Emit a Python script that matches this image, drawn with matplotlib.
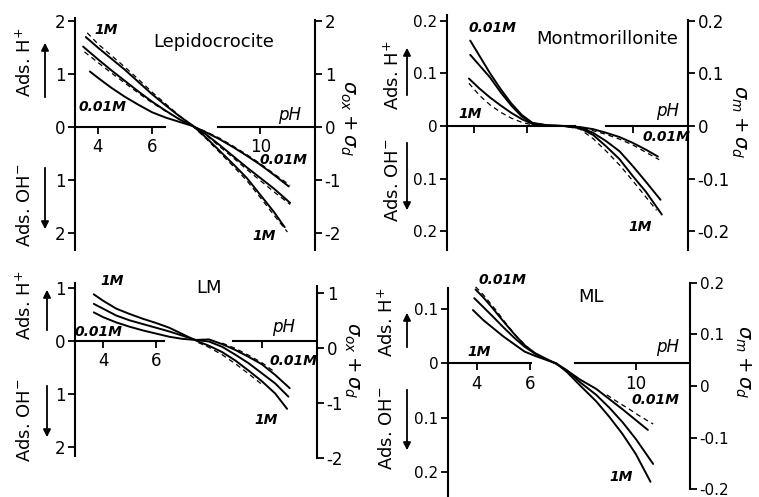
import numpy as np
import matplotlib
matplotlib.use("Agg")
import matplotlib.pyplot as plt
from matplotlib.patches import FancyArrowPatch

# ---------------- DATA ----------------
# Lepidocrocite
LEP_PH_1M = [3.55, 4.0, 4.5, 5.0, 5.5, 6.0, 6.5, 7.0, 7.5, 8.0, 8.5, 9.0, 9.5, 10.0, 10.5, 10.9]
LEP_1M = [1.70, 1.50, 1.29, 1.08, 0.85, 0.62, 0.41, 0.21, 0.03, -0.20, -0.45, -0.70, -0.96, -1.28, -1.60, -1.89]
LEP_PH_01M = [3.45, 4.0, 4.5, 5.0, 5.5, 6.0, 6.5, 7.0, 7.5, 8.0, 8.5, 9.0, 9.5, 10.0, 10.5, 11.1]
LEP_01M = [1.52, 1.28, 1.07, 0.87, 0.67, 0.48, 0.31, 0.15, 0.02, -0.14, -0.34, -0.55, -0.76, -0.96, -1.16, -1.43]
LEP_PH_001M = [3.7, 4.0, 4.5, 5.0, 5.5, 6.0, 6.5, 7.0, 7.5, 8.0, 8.5, 9.0, 9.5, 10.0, 10.5, 11.05]
LEP_001M = [1.05, 0.93, 0.74, 0.57, 0.42, 0.28, 0.18, 0.10, 0.02, -0.10, -0.23, -0.38, -0.54, -0.71, -0.90, -1.12]
LEP_PH_D1M = [3.6, 4.0, 4.5, 5.0, 5.5, 6.0, 6.5, 7.0, 7.5, 8.0, 8.5, 9.0, 9.5, 10.0, 10.5, 11.0]
LEP_D1M = [1.78, 1.57, 1.35, 1.13, 0.90, 0.66, 0.44, 0.22, 0.02, -0.22, -0.48, -0.74, -1.01, -1.33, -1.66, -1.98]
LEP_PH_D01M = [3.5, 4.0, 4.5, 5.0, 5.5, 6.0, 6.5, 7.0, 7.5, 8.0, 8.5, 9.0, 9.5, 10.0, 10.5, 11.1]
LEP_D01M = [1.42, 1.22, 1.02, 0.83, 0.64, 0.46, 0.30, 0.15, 0.02, -0.15, -0.37, -0.58, -0.80, -1.01, -1.22, -1.46]
LEP_PH_D001M = [7.5, 8.0, 8.5, 9.0, 9.5, 10.0, 10.5, 11.1]
LEP_D001M = [0.02, -0.09, -0.21, -0.36, -0.52, -0.69, -0.88, -1.10]

# Montmorillonite
MON_PH_1M = [3.8, 4.2, 4.6, 5.0, 5.4, 5.8, 6.2, 6.8, 7.4, 8.0, 8.5, 9.0, 9.5, 10.0, 10.5, 11.1]
MON_1M = [0.090, 0.071, 0.054, 0.039, 0.025, 0.013, 0.004, 0.001, 0.0, -0.004, -0.017, -0.039, -0.063, -0.095, -0.125, -0.168]
MON_PH_01M = [3.85, 4.2, 4.6, 5.0, 5.4, 5.8, 6.2, 6.8, 7.4, 8.0, 8.5, 9.0, 9.5, 10.0, 10.5, 11.05]
MON_01M = [0.135, 0.115, 0.092, 0.064, 0.039, 0.018, 0.005, 0.001, 0.0, -0.003, -0.013, -0.029, -0.048, -0.076, -0.106, -0.140]
MON_PH_001M = [3.85, 4.2, 4.6, 5.0, 5.4, 5.8, 6.2, 6.8, 7.4, 8.0, 8.5, 9.0, 9.5, 10.0, 10.5, 10.95]
MON_001M = [0.162, 0.133, 0.100, 0.070, 0.043, 0.021, 0.006, 0.001, 0.0, -0.002, -0.006, -0.013, -0.021, -0.032, -0.045, -0.058]
MON_PH_D1M = [3.8, 4.2, 4.6, 5.0, 5.4, 5.8, 6.2, 6.8, 7.4, 8.0, 8.5, 9.0, 9.5, 10.0, 10.5, 10.9]
MON_D1M = [0.081, 0.058, 0.040, 0.026, 0.015, 0.007, 0.002, 0.0, 0.0, -0.006, -0.024, -0.048, -0.074, -0.104, -0.135, -0.160]
MON_PH_D001M = [7.8, 8.5, 9.0, 9.5, 10.0, 10.5, 11.0]
MON_D001M = [0.0, -0.009, -0.016, -0.025, -0.036, -0.050, -0.064]

# LM
LM_PH_1M = [3.65, 4.0, 4.5, 5.0, 5.5, 6.0, 6.5, 7.0, 7.5, 8.0, 8.5, 9.0, 9.5, 10.0, 10.5, 10.95]
LM_1M = [0.88, 0.76, 0.61, 0.51, 0.42, 0.34, 0.25, 0.13, 0.01, -0.09, -0.21, -0.37, -0.56, -0.76, -0.99, -1.28]
LM_PH_01M = [3.65, 4.0, 4.5, 5.0, 5.5, 6.0, 6.5, 7.0, 7.5, 8.0, 8.5, 9.0, 9.5, 10.0, 10.5, 11.0]
LM_01M = [0.70, 0.61, 0.48, 0.39, 0.32, 0.25, 0.18, 0.10, 0.02, -0.01, -0.11, -0.26, -0.42, -0.61, -0.80, -1.05]
LM_PH_001M = [3.65, 4.0, 4.5, 5.0, 5.5, 6.0, 6.5, 7.0, 7.5, 8.0, 8.5, 9.0, 9.5, 10.0, 10.5, 11.05]
LM_001M = [0.54, 0.45, 0.35, 0.27, 0.20, 0.14, 0.08, 0.04, 0.02, 0.03, -0.06, -0.17, -0.30, -0.44, -0.64, -0.89]
LM_PH_D1M = [7.6, 8.0, 8.5, 9.0, 9.5, 10.0]
LM_D1M = [-0.03, -0.12, -0.26, -0.43, -0.62, -0.82]
LM_PH_D001M = [8.5, 9.0, 9.5, 10.0, 10.5]
LM_D001M = [-0.04, -0.14, -0.27, -0.41, -0.59]

# ML
ML_PH_1M = [3.85, 4.25, 4.6, 5.0, 5.4, 5.8, 6.2, 6.6, 7.0, 7.4, 7.9, 8.5, 9.0, 9.5, 10.0, 10.55]
ML_1M = [0.099, 0.080, 0.066, 0.050, 0.036, 0.022, 0.014, 0.007, 0.0, -0.016, -0.041, -0.070, -0.099, -0.131, -0.168, -0.219]
ML_PH_01M = [3.9, 4.25, 4.6, 5.0, 5.4, 5.8, 6.2, 6.6, 7.0, 7.4, 7.9, 8.5, 9.0, 9.5, 10.0, 10.65]
ML_01M = [0.121, 0.104, 0.087, 0.067, 0.048, 0.031, 0.018, 0.008, 0.0, -0.013, -0.035, -0.058, -0.082, -0.109, -0.140, -0.186]
ML_PH_001M = [3.95, 4.25, 4.6, 5.0, 5.4, 5.8, 6.2, 6.6, 7.0, 7.4, 7.9, 8.5, 9.0, 9.5, 10.0, 10.45]
ML_001M = [0.137, 0.122, 0.102, 0.078, 0.055, 0.034, 0.019, 0.009, -0.001, -0.013, -0.030, -0.047, -0.066, -0.085, -0.105, -0.123]
ML_PH_D001M = [3.95, 4.3, 4.7, 5.1, 5.5, 5.9]
ML_D001M = [0.142, 0.124, 0.100, 0.074, 0.050, 0.030]
ML_PH_D001M_R = [8.9, 9.3, 9.7, 10.1, 10.65]
ML_D001M_R = [-0.058, -0.071, -0.083, -0.096, -0.112]

# tick labels
PH_TICKS = [4, 6, 10]
LEP_YT = [2, 1, 0, -1, -2]
LEP_YL = ["2", "1", "0", "1", "2"]
LEP_RL = ["2", "1", "0", "-1", "-2"]
MON_YT = [0.2, 0.1, 0, -0.1, -0.2]
MON_YL = ["0.2", "0.1", "0", "0.1", "0.2"]
MON_RL = ["0.2", "0.1", "0", "-0.1", "-0.2"]
LM_YT = [1, 0, -1, -2]
LM_YL = ["1", "0", "1", "2"]
LM_RL = ["1", "0", "-1", "-2"]
ML_YT = [0.1, 0, -0.1, -0.2]
ML_YL = ["0.1", "0", "0.1", "0.2"]

# ---------------- FIGURE ----------------
plt.rcParams["font.family"] = ["DejaVu Sans"]
W, H = 759, 497
fig = plt.figure(figsize=(W / 100, H / 100), dpi=100)
fig.patch.set_facecolor("white")


def fx(px):
    return px / W


def fy(py):
    return 1 - py / H


LW_AX = 1.5
SOLID = dict(color="black", lw=1.4, solid_capstyle="round")
DASH = dict(color="black", lw=0.9, ls=(0, (4, 3)))


def panel(x0, x1, ytop, ybot, xlim, ylim, lbounds, seg_end, seg_start,
          xlabels, yt, yl, ylab_size):
    ax = fig.add_axes([fx(x0), fy(ybot), (x1 - x0) / W, (ybot - ytop) / H])
    ax.set_xlim(*xlim)
    ax.set_ylim(*ylim)
    ax.patch.set_alpha(0)
    for s in ("top", "right"):
        ax.spines[s].set_visible(False)
    ax.spines["left"].set_linewidth(LW_AX)
    ax.spines["left"].set_bounds(*lbounds)
    ax.spines["bottom"].set_position(("data", 0))
    ax.spines["bottom"].set_linewidth(LW_AX)
    ax.spines["bottom"].set_bounds(xlim[0], seg_end)
    frac = (seg_start - xlim[0]) / (xlim[1] - xlim[0])
    ax.axhline(0, xmin=frac, xmax=1, color="black", lw=LW_AX)
    ax.set_xticks(PH_TICKS)
    ax.set_xticklabels(xlabels)
    ax.tick_params(axis="x", direction="out", length=5, width=1.3, pad=3, labelsize=12)
    ax.set_yticks(yt)
    ax.set_yticklabels(yl)
    ax.tick_params(axis="y", direction="out", length=5, width=1.3, pad=2, labelsize=ylab_size)
    return ax


def right_axis(ax, ylim, bounds, yt, yl, size):
    tw = ax.twinx()
    tw.set_ylim(*ylim)
    for s in ("top", "left", "bottom"):
        tw.spines[s].set_visible(False)
    tw.spines["right"].set_linewidth(LW_AX)
    tw.spines["right"].set_bounds(*bounds)
    tw.set_yticks(yt)
    tw.set_yticklabels(yl)
    tw.tick_params(axis="y", direction="out", length=5, width=1.3, pad=2, labelsize=size)
    return tw


def arrow(x, y1, y2):
    fig.add_artist(FancyArrowPatch((fx(x), fy(y1)), (fx(x), fy(y2)),
                                   transform=fig.transFigure, arrowstyle="-|>",
                                   mutation_scale=11, lw=1.3, color="black"))


def txt(x, y, s, size=10, style="italic", rot=0, weight="bold"):
    fig.text(fx(x), fy(y), s, fontsize=size, style=style, rotation=rot,
             ha="center", va="center", fontweight=weight)


# ---- Panel 1: Lepidocrocite
a1 = panel(75, 315, 18, 250, (3.15, 12.02), (-2.32, 2.06), (-2.32, 2.06), 6.48, 8.44,
           ["4", "6", "10"], LEP_YT, LEP_YL, 12)
right_axis(a1, (-2.32, 2.06), (-2.32, 2.03), LEP_YT, LEP_RL, 12)
a1.plot(LEP_PH_1M, LEP_1M, **SOLID)
a1.plot(LEP_PH_01M, LEP_01M, **SOLID)
a1.plot(LEP_PH_001M, LEP_001M, **SOLID)
a1.plot(LEP_PH_D1M, LEP_D1M, **DASH)
a1.plot(LEP_PH_D01M, LEP_D01M, **DASH)
a1.plot(LEP_PH_D001M, LEP_D001M, **DASH)

# ---- Panel 2: Montmorillonite
a2 = panel(447, 688, 15, 250, (2.97, 12.09), (-0.2353, 0.2106), (-0.2353, 0.2106), 7.8, 9.0,
           ["", "", ""], MON_YT, MON_YL, 11)
right_axis(a2, (-0.2353, 0.2106), (-0.2353, 0.201), MON_YT, MON_RL, 12)
a2.plot(MON_PH_1M, MON_1M, **SOLID)
a2.plot(MON_PH_01M, MON_01M, **SOLID)
a2.plot(MON_PH_001M, MON_001M, **SOLID)
a2.plot(MON_PH_D1M, MON_D1M, **DASH)
a2.plot(MON_PH_D001M, MON_D001M, **DASH)

# ---- Panel 3: LM
a3 = panel(75, 317, 283, 460, (2.94, 12.08), (-2.245, 1.094), (-2.17, 1.094), 6.3, 8.92,
           ["4", "6", ""], LM_YT, LM_YL, 12)
right_axis(a3, (-2.036, 1.182), (-2.0, 1.13), LM_YT, LM_RL, 12)
a3.plot(LM_PH_1M, LM_1M, **SOLID)
a3.plot(LM_PH_01M, LM_01M, **SOLID)
a3.plot(LM_PH_001M, LM_001M, **SOLID)
a3.plot(LM_PH_D1M, LM_D1M, **DASH)
a3.plot(LM_PH_D001M, LM_D001M, **DASH)

# ---- Panel 4: ML
a4 = panel(448, 690, 280, 497, (2.91, 12.04), (-0.2472, 0.1546), (-0.2472, 0.14), 6.05, 7.69,
           ["4", "6", "10"], ML_YT, ML_YL, 11)
right_axis(a4, (-0.2155, 0.2058), (-0.2, 0.2), MON_YT, MON_RL, 11)
a4.plot(ML_PH_1M, ML_1M, **SOLID)
a4.plot(ML_PH_01M, ML_01M, **SOLID)
a4.plot(ML_PH_001M, ML_001M, **SOLID)
a4.plot(ML_PH_D001M, ML_D001M, **DASH)
a4.plot(ML_PH_D001M_R, ML_D001M_R, **DASH)

# ---- Side labels and arrows
for (xt, yh, yo, xa, ah, ao) in [
    (25, 62, 205, 45, (100, 40), (165, 232)),
    (393, 75, 180, 407, (98, 45), (140, 213)),
    (25, 305, 420, 47, (333, 287), (383, 440)),
    (387, 322, 428, 407, (350, 310), (387, 453)),
]:
    txt(xt, yh, "Ads. H$^{+}$", size=13, style="normal", rot=90, weight="normal")
    txt(xt, yo, "Ads. OH$^{-}$", size=13, style="normal", rot=90, weight="normal")
    arrow(xa, ah[0], ah[1])
    arrow(xa, ao[0], ao[1])

txt(348, 118, r"$\sigma_{ox}+\sigma_{d}$", size=14, style="normal", rot=270, weight="normal")
txt(739, 122, r"$\sigma_{m}+\sigma_{d}$", size=14, style="normal", rot=270, weight="normal")
txt(352, 360, r"$\sigma_{ox}+\sigma_{d}$", size=14, style="normal", rot=270, weight="normal")
txt(743, 362, r"$\sigma_{m}+\sigma_{d}$", size=14, style="normal", rot=270, weight="normal")

# ---- Titles
txt(214, 42, "Lepidocrocite", size=13, style="normal", weight="normal")
txt(607, 39, "Montmorillonite", size=13, style="normal", weight="normal")
txt(209, 288, "LM", size=13, style="normal", weight="normal")
txt(591, 297, "ML", size=13, style="normal", weight="normal")

# ---- pH labels
for (x, y) in [(290, 115), (668, 111), (284, 327), (668, 347)]:
    txt(x, y, "pH", size=12, style="italic", weight="normal")

# ---- concentration labels
for (x, y, s) in [
    (106, 30, "1M"), (102, 107, "0.01M"), (283, 160, "0.01M"), (264, 236, "1M"),
    (492, 28, "0.01M"), (470, 114, "1M"), (666, 137, "0.01M"), (640, 227, "1M"),
    (112, 281, "1M"), (98, 332, "0.01M"), (293, 361, "0.01M"), (266, 420, "1M"),
    (502, 280, "0.01M"), (479, 352, "1M"), (655, 400, "0.01M"), (621, 477, "1M"),
]:
    txt(x, y, s, size=10)

fig.savefig("out.png", dpi=100, facecolor="white")
